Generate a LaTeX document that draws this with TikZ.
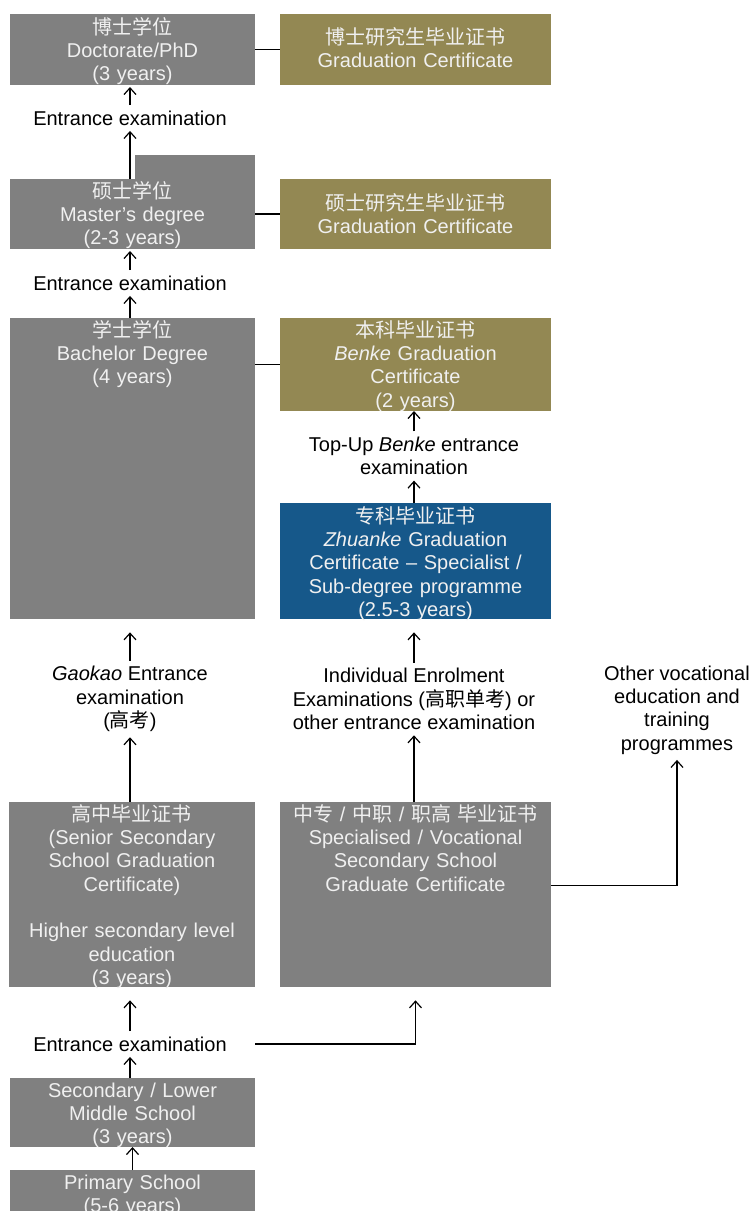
\documentclass[tikz,border=0pt]{standalone}
\usepackage{fontspec}
\setmainfont{Liberation Sans}
\newfontfamily\cjk{Noto Sans CJK SC}
\usetikzlibrary{arrows.meta, fit, calc}

\definecolor{boxgray}{RGB}{128,128,128}
\definecolor{certolive}{RGB}{147,136,83}
\definecolor{zkblue}{RGB}{22,88,138}
\definecolor{boxtext}{RGB}{240,240,240}

\begin{document}
\begin{tikzpicture}[x=0.75pt, y=-0.75pt,
  every node/.style={font=\fontsize{15}{17.5}\selectfont},
  box/.style={fill=boxgray, inner sep=0pt, outer sep=0pt},
  cert/.style={fill=certolive, inner sep=0pt, outer sep=0pt},
  spec/.style={fill=zkblue, inner sep=0pt, outer sep=0pt},
  boxtxt/.style={text=boxtext, align=center, text width=#1, anchor=base, inner sep=0pt},
  boxtxt/.default=180pt,
  exam/.style={align=center, inner sep=4pt},
  arr/.style={-{Straight Barb[length=5pt,width=9pt]}, line width=0.9pt},
  link/.style={line width=1pt}]
\useasboundingbox (0,0) rectangle (753,1211);

% Doctorate and its certificate
\node[box, fit={(10,14) (255,85)}] (doct) {};
\node[boxtxt] (doctTxt) at ($(doct.north)+(0,20)$) {{\cjk 博士学位}\\Doctorate/PhD\\(3 years)};
\node[cert, fit={(280,14) (551,85)}] (cert1) {};
\node[boxtxt=200pt] (cert1Txt) at ($(cert1.north)+(0,30)$) {{\cjk 博士研究生毕业证书}\\Graduation Certificate};
\draw[link] (doct.east) -- (cert1.west);

% Master's degree (with the step on top)
\fill[boxgray] (135,155) rectangle (255,179);
\node[box, fit={(10,179) (255,249)}] (mast) {};
\node[boxtxt] (mastTxt) at ($(mast.north)+(0,19)$) {{\cjk 硕士学位}\\Master’s degree\\(2-3 years)};
\node[cert, fit={(280,179) (551,249)}] (cert2) {};
\node[boxtxt=200pt] (cert2Txt) at ($(cert2.north)+(0,31)$) {{\cjk 硕士研究生毕业证书}\\Graduation Certificate};
\draw[link] (mast.east) -- (cert2.west);

\node[exam] (exam1) at (130,118) {Entrance examination};
\draw[arr, shorten >=1.5pt] (exam1.north) -- (exam1.north |- doct.south);
\draw[arr] (mast.north -| exam1.south) -- (exam1.south);

% Bachelor and Benke
\node[exam] (exam2) at (130,283) {Entrance examination};
\draw[arr, shorten >=1.5pt] (exam2.north) -- (exam2.north |- mast.south);
\node[box, fit={(10,318) (255,619)}] (bach) {};
\node[boxtxt] (bachTxt) at ($(bach.north)+(0,19)$) {{\cjk 学士学位}\\Bachelor Degree\\(4 years)};
\draw[arr] (bach.north -| exam2.south) -- (exam2.south);

\node[cert, fit={(280,318) (551,411)}] (benke) {};
\node[boxtxt=200pt] (benkeTxt) at ($(benke.north)+(0,19)$) {{\cjk 本科毕业证书}\\\textit{Benke} Graduation\\Certificate\\(2 years)};
\draw[link] (benke.west -| bach.east) -- (benke.west);

\node[exam] (topup) at (414,456) {Top-Up \textit{Benke} entrance\\examination};
\draw[arr] (topup.north) -- (topup.north |- benke.south);

% Zhuanke
\node[spec, fit={(280,503) (551,619)}] (zhuan) {};
\node[boxtxt=200pt] (zhuanTxt) at ($(zhuan.north)+(0,20)$) {{\cjk 专科毕业证书}\\\textit{Zhuanke} Graduation\\Certificate – Specialist /\\Sub-degree programme\\(2.5-3 years)};
\draw[arr] (zhuan.north -| topup.south) -- (topup.south);

% Entrance routes
\node[exam] (gaokao) at (130,699) {\textit{Gaokao} Entrance\\examination\\({\cjk 高考})};
\node[exam] (indiv) at (414,699) {Individual Enrolment\\Examinations ({\cjk 高职单考}) or\\other entrance examination};
\node[exam] (other) at (677,710) {Other vocational\\education and\\training\\programmes};
\draw[arr, shorten >=10pt] (gaokao.north) -- (gaokao.north |- bach.south);
\draw[arr, shorten >=10pt] (indiv.north) -- (indiv.north |- zhuan.south);

% Senior secondary level
\node[box, fit={(9,802) (255,987)}] (senior) {};
\node[boxtxt] (seniorTxt) at ($(senior.north)+(0,19)$) {{\cjk 高中毕业证书}\\(Senior Secondary\\School Graduation\\Certificate)\\[17.5pt]Higher secondary level\\education\\(3 years)};
\node[box, fit={(280,802) (551,987)}] (voc) {};
\node[boxtxt=200pt] (vocTxt) at ($(voc.north)+(0,19)$) {{\cjk 中专} / {\cjk 中职} / {\cjk 职高} {\cjk 毕业证书}\\Specialised / Vocational\\Secondary School\\Graduate Certificate};
\draw[arr] (senior.north -| gaokao.south) -- (gaokao.south);
\draw[arr] (voc.north -| indiv.south) -- (indiv.south);
\draw[arr] ($(voc.east)+(0,-9)$) -| (other.south);

% Lower levels
\node[exam] (exam3) at (130,1044) {Entrance examination};
\draw[arr, shorten >=10pt] (exam3.north) -- (exam3.north |- senior.south);
\draw[arr, shorten >=10pt] (exam3.east -| senior.east) -| (voc.south);
\node[box, fit={(10,1078) (255,1147)}] (second) {};
\node[boxtxt] (secondTxt) at ($(second.north)+(0,19)$) {Secondary / Lower\\Middle School\\(3 years)};
\draw[arr] (second.north -| exam3.south) -- (exam3.south);
\node[box, fit={(10,1170) (255,1211)}] (prim) {};
\node[boxtxt] (primTxt) at ($(prim.north)+(0,19)$) {Primary School\\(5-6 years)};
\draw[arr] (prim.north) -- (second.south);
\end{tikzpicture}
\end{document}
